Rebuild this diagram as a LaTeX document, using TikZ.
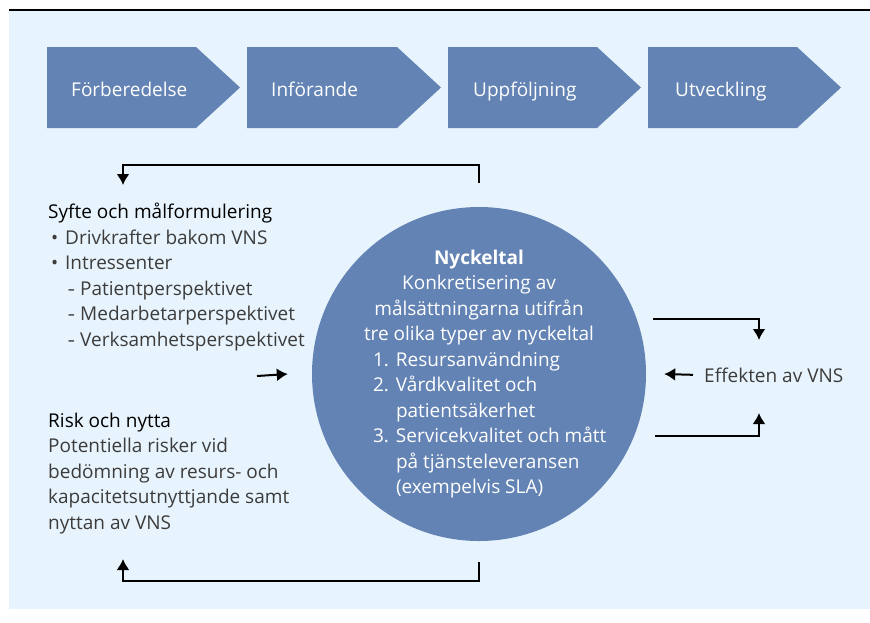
\documentclass[tikz,border=0pt]{standalone}
\usepackage{fontspec}
\setmainfont{Open Sans}
\usetikzlibrary{arrows.meta,positioning}
\definecolor{fasblaa}{HTML}{6383B4}
\definecolor{bakgrund}{HTML}{E8F4FD}
\definecolor{brodtext}{HTML}{3C3C3C}
\tikzset{
	fas/.style={fill=fasblaa},
	fastext/.style={anchor=base west, inner sep=0pt, text=white, font=\fontsize{19}{22}\selectfont},
	tekst/.style={anchor=base west, inner sep=0pt, align=left, text=brodtext, font=\fontsize{19}{25.5}\selectfont},
	pil/.style={line width=2pt, -{Latex[length=11pt,width=13pt]}},
}
\newcommand{\punkt}{\hspace*{3pt}\makebox[14pt][l]{•}}
\newcommand{\streck}{\hspace*{20pt}\makebox[12pt][l]{\scalebox{0.7}[1]{–}}}
\newcommand{\nr}[1]{\makebox[23pt][l]{#1}}
\begin{document}
\begin{tikzpicture}[x=1pt, y=-1pt]
		\useasboundingbox (0,0) rectangle (870,622);
		% Bakgrund
		\fill[bakgrund] (9,11) rectangle (870,609);
		\draw[line width=1.5pt] (9,10) -- (870,10);
		% Faser
		\fill[fas] (47,47) -- (196,47) -- (240,87.5) -- (196,128) -- (47,128) -- cycle;
		\node[fastext] (forb) at (71,96) {Förberedelse};
		\fill[fas] (247,47) -- (397,47) -- (441,87.5) -- (397,128) -- (247,128) -- cycle;
		\node[fastext] (inf) at (271,96) {Införande};
		\fill[fas] (448,47) -- (597,47) -- (641,87.5) -- (597,128) -- (448,128) -- cycle;
		\node[fastext] (uppf) at (473,96) {Uppföljning};
		\fill[fas] (648,47) -- (797,47) -- (841,87.5) -- (797,128) -- (648,128) -- cycle;
		\node[fastext] (utv) at (675,96) {Utveckling};
		% Nyckeltal
		\node[circle, fill=fasblaa, minimum size=334pt, inner sep=0pt] (nyckel) at (479,374) {};
		\node[align=center, inner sep=0pt, text=white, font=\fontsize{19}{25.5}\selectfont]
			(nyckeltext) at (nyckel.center) {%
			\textbf{Nyckeltal}\\
			Konkretisering av\\
			målsättningarna utifrån\\
			tre olika typer av nyckeltal\\
			\makebox[212pt][l]{\nr{1.}Resursanvändning}\\
			\makebox[212pt][l]{\nr{2.}Vårdkvalitet och}\\
			\makebox[212pt][l]{\nr{}patientsäkerhet}\\
			\makebox[212pt][l]{\nr{3.}Servicekvalitet och mått}\\
			\makebox[212pt][l]{\nr{}på tjänsteleveransen}\\
			\makebox[212pt][l]{\nr{}(exempelvis SLA)}};
		% Texter
		\node[tekst] (syfte) at (48,346) {%
			\textcolor{black}{Syfte och målformulering}\\
			\punkt Drivkrafter bakom VNS\\
			\punkt Intressenter\\
			\streck Patientperspektivet\\
			\streck Medarbetarperspektivet\\
			\streck Verksamhetsperspektivet};
		\node[tekst] (risk) at (48,529) {%
			\textcolor{black}{Risk och nytta}\\
			Potentiella risker vid\\
			bedömning av resurs- och\\
			kapacitetsutnyttjande samt\\
			nyttan av VNS};
		\node[tekst] (effekt) at (704,382) {Effekten av VNS};
		% Pilar
		\coordinate (syftetopp) at (123,185);
		\coordinate (riskbotten) at (123,559);
		\coordinate (vanster) at (257,376);
		\coordinate (hogerovre) at (653,319);
		\coordinate (hogernedre) at (655,436);
		\coordinate (effektovre) at (759,340);
		\coordinate (effektnedre) at (759,413);
		\draw[pil] ([yshift=24pt]nyckel.north) -- ++(0,-18) -| (syftetopp);
		\draw[pil] ([yshift=-21pt]nyckel.south) -- ++(0,19) -| (riskbotten);
		\draw[pil] (vanster) -- ([xshift=-24pt]nyckel.west);
		\draw[pil] ([xshift=-11pt]effekt.west) -- ([xshift=18pt]nyckel.east);
		\draw[pil] (hogerovre) -| (effektovre);
		\draw[pil] (hogernedre) -| (effektnedre);
	\end{tikzpicture}
\end{document}
